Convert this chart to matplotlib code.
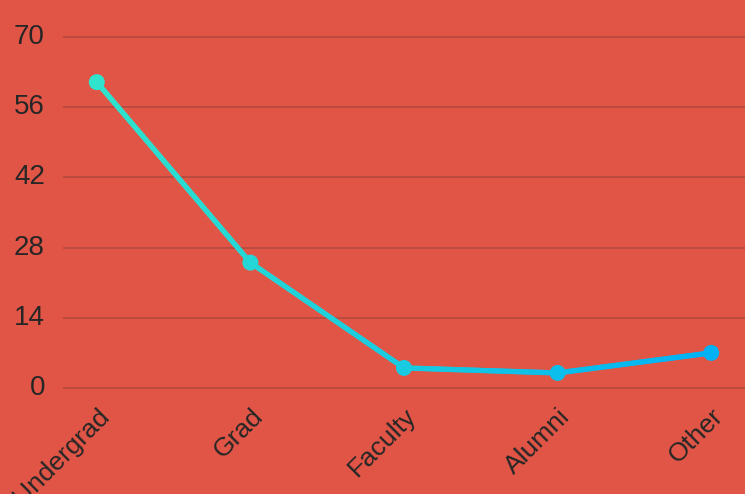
import numpy as np
import matplotlib
matplotlib.use("Agg")
import matplotlib.pyplot as plt
from matplotlib.collections import LineCollection
from matplotlib.colors import to_rgb
from matplotlib.transforms import ScaledTranslation

categories = ["Undergrad", "Grad", "Faculty", "Alumni", "Other"]
values = [61, 25, 4, 3, 7]
yticks = [0, 14, 28, 42, 56, 70]

bg = "#E15546"
grid_c = "#B84A3E"
c_start = np.array(to_rgb("#30E3CC"))
c_end = np.array(to_rgb("#00B2F5"))

plt.rcParams['font.family'] = ['Liberation Sans', 'DejaVu Sans']

fig = plt.figure(figsize=(7.45, 4.94), dpi=100, facecolor=bg)
ax = fig.add_axes([63/745, 1-393/494, 1-63/745, (393-32)/494], facecolor=bg)

x = np.arange(len(categories))
ax.set_xlim(-0.22, len(categories) - 1 + 0.22)
ax.set_ylim(-1, 71)

def col(xv):
    t = (xv - x[0]) / (x[-1] - x[0])
    return tuple(c_start + (c_end - c_start) * t)

# gradient line: split each segment into short pieces for colour rendering
segs, cols = [], []
n = 60
for i in range(len(x) - 1):
    xs = np.linspace(x[i], x[i+1], n + 1)
    ys = np.linspace(values[i], values[i+1], n + 1)
    for j in range(n):
        segs.append([(xs[j], ys[j]), (xs[j+1], ys[j+1])])
        cols.append(col((xs[j] + xs[j+1]) / 2))
lc = LineCollection(segs, colors=cols, linewidths=3.8, capstyle='round', zorder=3)
ax.add_collection(lc)
ax.scatter(x, values, s=11.5**2, c=[col(v) for v in x], zorder=4, linewidths=0)

ax.set_yticks(yticks)
ax.set_yticklabels([str(t) for t in yticks])
ax.set_xticks(x)
ax.set_xticklabels(categories, rotation=45, ha='right', va='top', rotation_mode='anchor')
ax.tick_params(axis='both', length=0, colors='#262626')
ax.tick_params(axis='y', pad=13, labelsize=20)
ax.tick_params(axis='x', pad=8, labelsize=19)
ax.grid(axis='y', color=grid_c, linewidth=1.3)
ax.set_axisbelow(True)
for s in ax.spines.values():
    s.set_visible(False)

shift = ScaledTranslation(0, 3/100, fig.dpi_scale_trans)
for lab in ax.get_yticklabels():
    lab.set_transform(lab.get_transform() + shift)

fig.savefig("out.png", dpi=100, facecolor=bg)
